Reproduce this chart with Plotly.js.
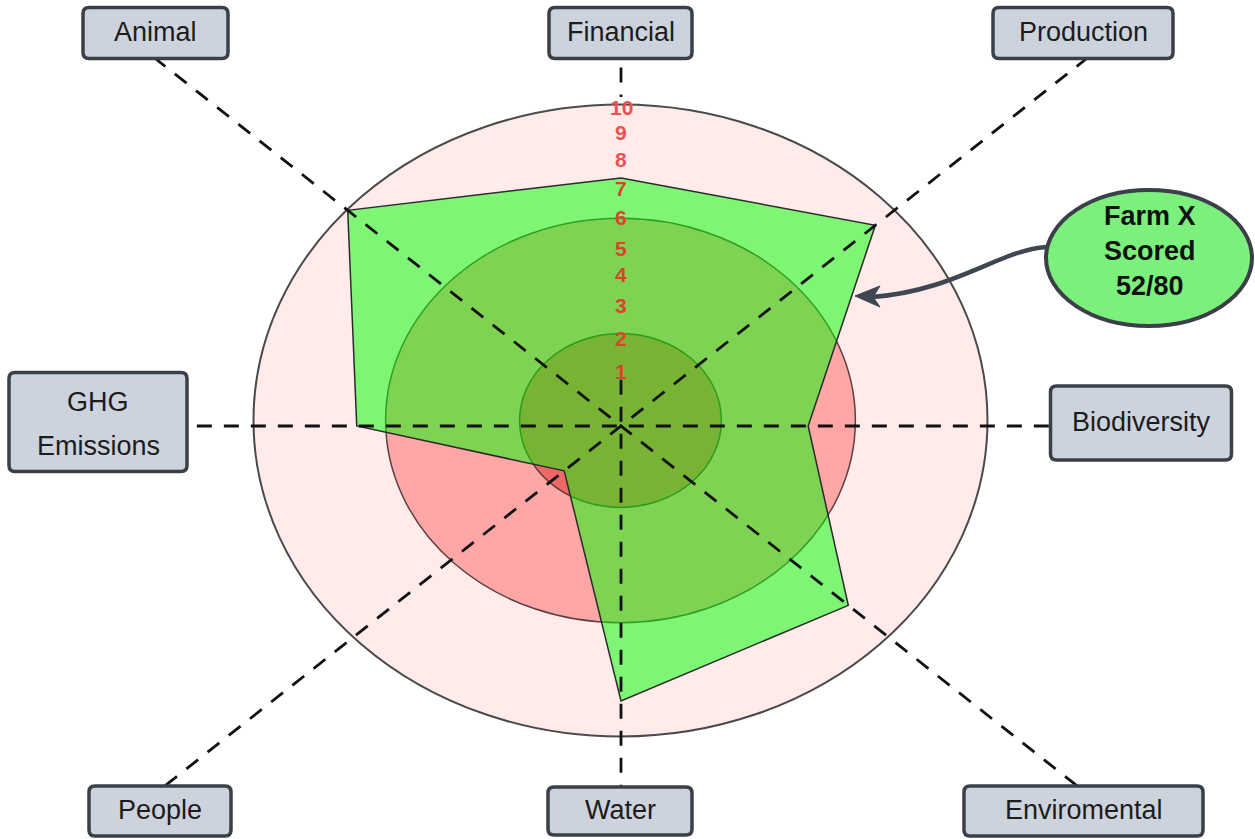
<!DOCTYPE html>
<html>
<head>
<meta charset="utf-8">
<script src="https://cdn.plot.ly/plotly-3.0.1.min.js"></script>
<style>
  html, body { margin: 0; padding: 0; background: #ffffff; }
  #chart { width: 1255px; height: 839px; }
</style>
</head>
<body>
<div id="chart"></div>
<script>
// ---------------- data ----------------
const categories = ['Financial', 'Production', 'Biodiversity', 'Enviromental', 'Water', 'People', 'GHG<br>Emissions', 'Animal'];
const scores = [7.85, 9.4, 5.1, 8.4, 8.7, 2.1, 7.2, 10.1];
const spokeAngles = [90, 42.5, 0, -42.5, -90, 222.5, 180, 137.5];
const bandRadii = [10, 6.4, 2.75];
const tickLabels = ['1', '2', '3', '4', '5', '6', '7', '8', '9', '10'];
const tickPos = [1.71, 2.78, 3.80, 4.78, 5.63, 6.61, 7.53, 8.42, 9.30, 10.09];
const calloutText = 'Farm X<br>Scored<br>52/80';

// ---------------- geometry helpers ----------------
const W = 1255, H = 839;
const CX = 621, CY = 426;      // pixel centre of the spokes
const KX = 36.7, KY = 31.6;     // pixels per score unit
const xRange = [-CX / KX, (W - CX) / KX];
const yRange = [-(H - CY) / KY, CY / KY];
const rad = a => a * Math.PI / 180;
const PX = x => x / W;
const PY = y => 1 - y / H;

// polygon from data
const polyX = [], polyY = [];
scores.forEach((s, i) => {
  polyX.push(s * Math.cos(rad(spokeAngles[i])));
  polyY.push(s * Math.sin(rad(spokeAngles[i])));
});
polyX.push(polyX[0]); polyY.push(polyY[0]);

const traces = [{
  type: 'scatter', mode: 'lines',
  x: polyX, y: polyY,
  fill: 'toself', fillcolor: 'rgba(0,255,0,0.5)',
  line: { color: '#2b2b2b', width: 1.5 },
  hoverinfo: 'skip', showlegend: false
}];

const shapes = [];
// concentric bands (ellipses in pixel space)
const ecx = -0.014, ecy = 0.174;
const bandFill = ['#FFEBEA', '#FFA6A6', '#EE6868'];
const bandLine = ['#4a4a4a', '#5a4040', '#5a3535'];
bandRadii.forEach((r, i) => {
  shapes.push({
    type: 'circle', xref: 'x', yref: 'y', layer: 'below',
    x0: ecx - r, x1: ecx + r, y0: ecy - r, y1: ecy + r,
    fillcolor: bandFill[i], line: { color: bandLine[i], width: i === 0 ? 2 : 1.5 }
  });
});

// dashed spokes
const dashLine = { color: '#111111', width: 2.8, dash: '15px,12px' };
const ends = 12.2;
[42.5, 137.5].forEach(a => {
  const t = ends / Math.sin(rad(a));
  shapes.push({
    type: 'line', xref: 'x', yref: 'y', layer: 'above',
    x0: t * Math.cos(rad(a)), y0: t * Math.sin(rad(a)),
    x1: -t * Math.cos(rad(a)), y1: -t * Math.sin(rad(a)),
    line: dashLine
  });
});
shapes.push({ type: 'line', xref: 'x', yref: 'y', layer: 'above', x0: -14.5, y0: 0, x1: 14.5, y1: 0, line: dashLine });
shapes.push({ type: 'line', xref: 'x', yref: 'y', layer: 'above', x0: 0, y0: ends, x1: 0, y1: 10.41, line: dashLine });
shapes.push({ type: 'line', xref: 'x', yref: 'y', layer: 'above', x0: 0, y0: 1.46, x1: 0, y1: -ends, line: dashLine });

// rounded label boxes
function roundRect(cx, cy, w, h, r) {
  const x0 = cx - w / 2, x1 = cx + w / 2, y0 = cy - h / 2, y1 = cy + h / 2;
  const p = (x, y) => PX(x).toFixed(5) + ',' + PY(y).toFixed(5);
  return 'M' + p(x0 + r, y0) + ' L' + p(x1 - r, y0) + ' Q' + p(x1, y0) + ' ' + p(x1, y0 + r) +
    ' L' + p(x1, y1 - r) + ' Q' + p(x1, y1) + ' ' + p(x1 - r, y1) +
    ' L' + p(x0 + r, y1) + ' Q' + p(x0, y1) + ' ' + p(x0, y1 - r) +
    ' L' + p(x0, y0 + r) + ' Q' + p(x0, y0) + ' ' + p(x0 + r, y0) + ' Z';
}
const boxes = [
  { cx: 620.5, cy: 33, w: 143, h: 51 },   // Financial
  { cx: 1083, cy: 33, w: 180, h: 51 },    // Production
  { cx: 1141, cy: 423, w: 181, h: 74 },   // Biodiversity
  { cx: 1083.5, cy: 811, w: 239, h: 50 }, // Enviromental
  { cx: 620, cy: 811, w: 144, h: 48 },    // Water
  { cx: 160, cy: 811, w: 142, h: 50 },    // People
  { cx: 98, cy: 422, w: 178, h: 99 },     // GHG Emissions
  { cx: 155.5, cy: 33, w: 145, h: 51 }    // Animal
];
const annotations = [];
boxes.forEach((b, i) => {
  shapes.push({
    type: 'path', xref: 'paper', yref: 'paper', layer: 'above',
    path: roundRect(b.cx, b.cy, b.w, b.h, 6),
    fillcolor: '#CDD3DC', line: { color: '#3b4048', width: 3.5 }
  });
  const lines = categories[i].split('<br>');
  if (lines.length === 1) {
    annotations.push({
      xref: 'paper', yref: 'paper', x: PX(b.cx), y: PY(b.cy - 1),
      xanchor: 'center', yanchor: 'middle', showarrow: false,
      text: lines[0], font: { family: 'Liberation Sans, Arial, sans-serif', size: 27, color: '#1c1c1c' }
    });
  } else {
    lines.forEach((t, k) => {
      annotations.push({
        xref: 'paper', yref: 'paper', x: PX(b.cx), y: PY(b.cy - 20 + k * 44),
        xanchor: 'center', yanchor: 'middle', showarrow: false,
        text: t, font: { family: 'Liberation Sans, Arial, sans-serif', size: 27, color: '#1c1c1c' }
      });
    });
  }
});

// callout bubble and curved arrow
shapes.push({
  type: 'circle', xref: 'paper', yref: 'paper', layer: 'above',
  x0: PX(1046), x1: PX(1252), y0: PY(326), y1: PY(190),
  fillcolor: '#7CF07C', line: { color: '#3b4048', width: 4 }
});
const pp = (x, y) => PX(x).toFixed(5) + ',' + PY(y).toFixed(5);
shapes.push({
  type: 'path', xref: 'paper', yref: 'paper', layer: 'above',
  path: 'M' + pp(1046, 247) + ' C' + pp(1000, 250) + ' ' + pp(955, 291) + ' ' + pp(872, 297),
  line: { color: '#3d4651', width: 4.5 }
});
shapes.push({
  type: 'path', xref: 'paper', yref: 'paper', layer: 'above',
  path: 'M' + pp(855, 296) + ' L' + pp(880, 286) + ' L' + pp(873, 297) + ' L' + pp(880, 307) + ' Z',
  fillcolor: '#3d4651', line: { color: '#3d4651', width: 1 }
});
annotations.push({
  xref: 'paper', yref: 'paper', x: PX(1150), y: PY(251),
  xanchor: 'center', yanchor: 'middle', showarrow: false,
  text: '<b>' + calloutText + '</b>',
  font: { family: 'Liberation Sans, Arial, sans-serif', size: 27, color: '#111111' }
});

// scale labels
tickLabels.forEach((t, i) => {
  annotations.push({
    xref: 'x', yref: 'y', x: 0, y: tickPos[i],
    xanchor: 'center', yanchor: 'middle', showarrow: false,
    text: '<b>' + t + '</b>',
    font: { family: 'Liberation Sans, Arial, sans-serif', size: 21, color: i >= 7 ? '#EE5050' : '#D8452A' }
  });
});

const layout = {
  width: W, height: H,
  margin: { l: 0, r: 0, t: 0, b: 0, pad: 0 },
  paper_bgcolor: '#ffffff', plot_bgcolor: '#ffffff',
  xaxis: { range: xRange, visible: false, fixedrange: true },
  yaxis: { range: yRange, visible: false, fixedrange: true },
  showlegend: false,
  shapes: shapes,
  annotations: annotations
};

Plotly.newPlot('chart', traces, layout, { displayModeBar: false, staticPlot: true });
</script>
</body>
</html>
